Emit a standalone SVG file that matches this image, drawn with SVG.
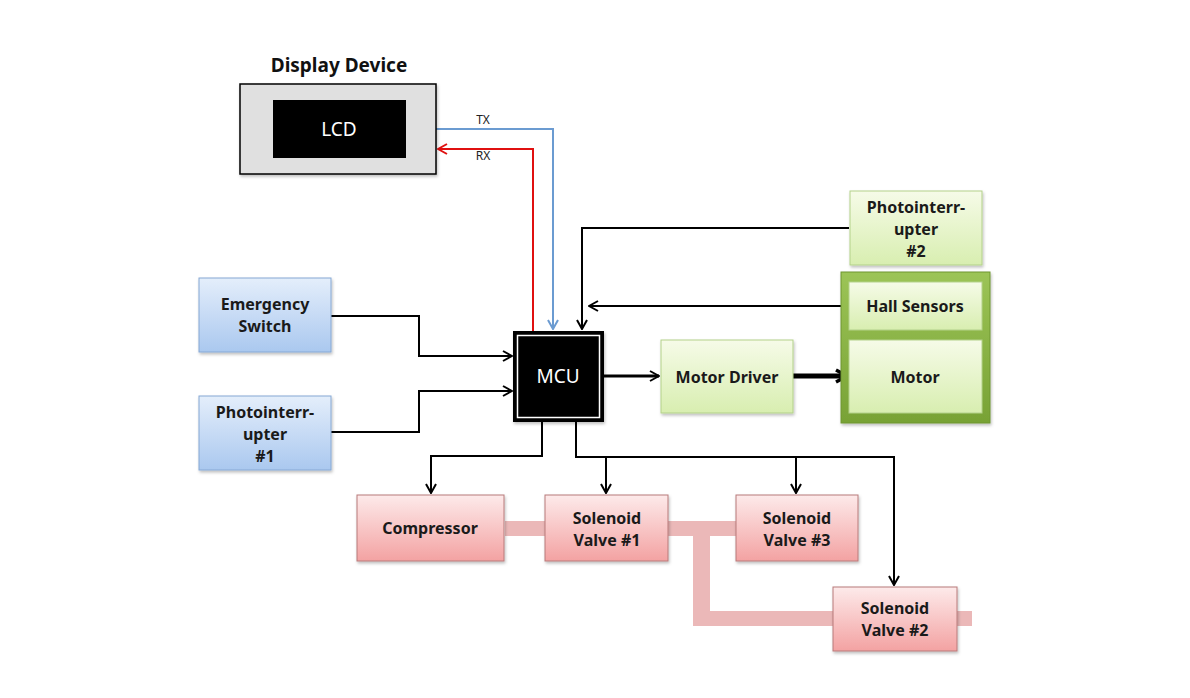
<svg xmlns="http://www.w3.org/2000/svg" width="1190" height="698" viewBox="0 0 1190 698">
<style>
.t{font-family:"Noto Sans","Open Sans","Liberation Sans",sans-serif;font-weight:bold;font-size:16px;fill:#1a1a1a;text-anchor:middle}
.w{font-family:"Noto Sans","Open Sans","Liberation Sans",sans-serif;font-size:19px;fill:#fff;text-anchor:middle}
.s{font-family:"Noto Sans","Liberation Sans",sans-serif;font-size:12px;fill:#222;text-anchor:middle}
.blue{fill:url(#gb);stroke:#86a8d4;stroke-width:1}
.green{fill:url(#gg);stroke:#b3d18a;stroke-width:1}
.red{fill:url(#gr);stroke:#b87a7a;stroke-width:1}
.c{fill:none;stroke:#000;stroke-width:2}
.pipe{fill:#ebb8b8;stroke:none}
</style>
<defs>
<linearGradient id="gb" x1="0" y1="0" x2="0" y2="1"><stop offset="0" stop-color="#e4eefb"/><stop offset="1" stop-color="#aac8ef"/></linearGradient>
<linearGradient id="gg" x1="0" y1="0" x2="0" y2="1"><stop offset="0" stop-color="#f6fbe8"/><stop offset="1" stop-color="#d8eeb0"/></linearGradient>
<linearGradient id="gr" x1="0" y1="0" x2="0" y2="1"><stop offset="0" stop-color="#fdeaea"/><stop offset="1" stop-color="#f3a2a2"/></linearGradient>
<linearGradient id="gm" x1="0" y1="0" x2="0" y2="1"><stop offset="0" stop-color="#9cc456"/><stop offset="1" stop-color="#78a235"/></linearGradient>
<filter id="sh" x="-10%" y="-10%" width="130%" height="130%"><feDropShadow dx="1" dy="2" stdDeviation="1.5" flood-color="#000" flood-opacity="0.25"/></filter>
<marker id="a" viewBox="0 0 12 12" refX="11" refY="6" markerWidth="12" markerHeight="12" markerUnits="userSpaceOnUse" orient="auto"><path d="M2,1 L11,6 L2,11" fill="none" stroke="#000" stroke-width="2"/></marker>
<marker id="ab" viewBox="0 0 12 12" refX="11" refY="6" markerWidth="12" markerHeight="12" markerUnits="userSpaceOnUse" orient="auto"><path d="M2,1 L11,6 L2,11" fill="none" stroke="#6b9bd1" stroke-width="2"/></marker>
<marker id="ar" viewBox="0 0 12 12" refX="11" refY="6" markerWidth="12" markerHeight="12" markerUnits="userSpaceOnUse" orient="auto"><path d="M2,1 L11,6 L2,11" fill="none" stroke="#e01010" stroke-width="2"/></marker>
<marker id="a3" viewBox="0 0 16 16" refX="14" refY="8" markerWidth="16" markerHeight="16" markerUnits="userSpaceOnUse" orient="auto"><path d="M3,2 L14,8 L3,14" fill="none" stroke="#000" stroke-width="3.5"/></marker>
</defs>
<rect width="1190" height="698" fill="#fff"/>

<g id="pipes">
<rect class="pipe" x="505" y="521" width="40" height="15"/>
<rect class="pipe" x="668" y="521" width="68" height="15"/>
<path class="pipe" d="M693,521 H710 V611 H833 V626 H693 Z"/>
<rect class="pipe" x="957" y="611" width="15" height="15"/>
</g>

<g id="connectors">
<path d="M436,129 H553 V329" fill="none" stroke="#6b9bd1" stroke-width="2" marker-end="url(#ab)"/>
<path d="M533,331 V149 H438" fill="none" stroke="#e01010" stroke-width="2" marker-end="url(#ar)"/>
<path class="c" d="M331,316 H419 V356 H512" marker-end="url(#a)"/>
<path class="c" d="M331,432 H419 V391 H512" marker-end="url(#a)"/>
<path class="c" d="M849,228 H582 V329" marker-end="url(#a)"/>
<path class="c" d="M849,306 H589" marker-end="url(#a)"/>
<path d="M604,376 H659" fill="none" stroke="#000" stroke-width="3" marker-end="url(#a)"/>
<path d="M793,376 H847" fill="none" stroke="#000" stroke-width="5" marker-end="url(#a3)"/>
<path class="c" d="M542,422 V456 H431 V493" marker-end="url(#a)"/>
<path class="c" d="M576,422 V457 H894 V585" marker-end="url(#a)"/>
<path class="c" d="M606,457 V493" marker-end="url(#a)"/>
<path class="c" d="M796,457 V493" marker-end="url(#a)"/>
</g>

<g id="display">
<text x="339" y="72" class="t" style="font-size:19px;fill:#111">Display Device</text>
<rect x="240" y="84" width="196" height="90" fill="#e0e0e0" stroke="#000" stroke-width="1.5" filter="url(#sh)"/>
<rect x="273" y="100" width="133" height="58" fill="#000"/>
<text x="339" y="136" class="w">LCD</text>
</g>
<text x="483" y="124" class="s">TX</text>
<text x="483" y="160" class="s">RX</text>

<g id="mcu">
<rect x="513" y="331" width="91" height="91" fill="#000" filter="url(#sh)"/>
<rect x="517.5" y="335.5" width="82" height="82" fill="#000" stroke="#fff" stroke-width="1.5"/>
<text x="558" y="383" class="w">MCU</text>
</g>

<g id="emergency">
<rect x="199" y="278" width="132" height="74" class="blue" filter="url(#sh)"/>
<text x="265" y="310" class="t">Emergency</text>
<text x="265" y="332" class="t">Switch</text>
</g>

<g id="photo1">
<rect x="199" y="396" width="132" height="74" class="blue" filter="url(#sh)"/>
<text x="265" y="418" class="t">Photointerr-</text>
<text x="265" y="440" class="t">upter</text>
<text x="265" y="462" class="t">#1</text>
</g>

<g id="photo2">
<rect x="850" y="191" width="132" height="74" class="green" filter="url(#sh)"/>
<text x="916" y="213" class="t">Photointerr-</text>
<text x="916" y="235" class="t">upter</text>
<text x="916" y="257" class="t">#2</text>
</g>

<g id="motorgroup">
<rect x="841" y="272" width="149" height="151" fill="url(#gm)" stroke="#6e9630" stroke-width="1" filter="url(#sh)"/>
<g id="hall">
<rect x="849" y="282" width="133" height="48" class="green"/>
<text x="915" y="312" class="t">Hall Sensors</text>
</g>
<g id="motor">
<rect x="849" y="340" width="133" height="73" class="green"/>
<text x="915" y="383" class="t">Motor</text>
</g>
</g>

<g id="driver">
<rect x="661" y="340" width="132" height="73" class="green" filter="url(#sh)"/>
<text x="727" y="383" class="t">Motor Driver</text>
</g>

<g id="compressor">
<rect x="357" y="495" width="147" height="66" class="red" filter="url(#sh)"/>
<text x="430" y="534" class="t">Compressor</text>
</g>

<g id="sv1">
<rect x="545" y="495" width="123" height="66" class="red" filter="url(#sh)"/>
<text x="607" y="524" class="t">Solenoid</text>
<text x="607" y="546" class="t">Valve #1</text>
</g>

<g id="sv3">
<rect x="736" y="495" width="122" height="66" class="red" filter="url(#sh)"/>
<text x="797" y="524" class="t">Solenoid</text>
<text x="797" y="546" class="t">Valve #3</text>
</g>

<g id="sv2">
<rect x="833" y="587" width="124" height="64" class="red" filter="url(#sh)"/>
<text x="895" y="614" class="t">Solenoid</text>
<text x="895" y="636" class="t">Valve #2</text>
</g>
</svg>
